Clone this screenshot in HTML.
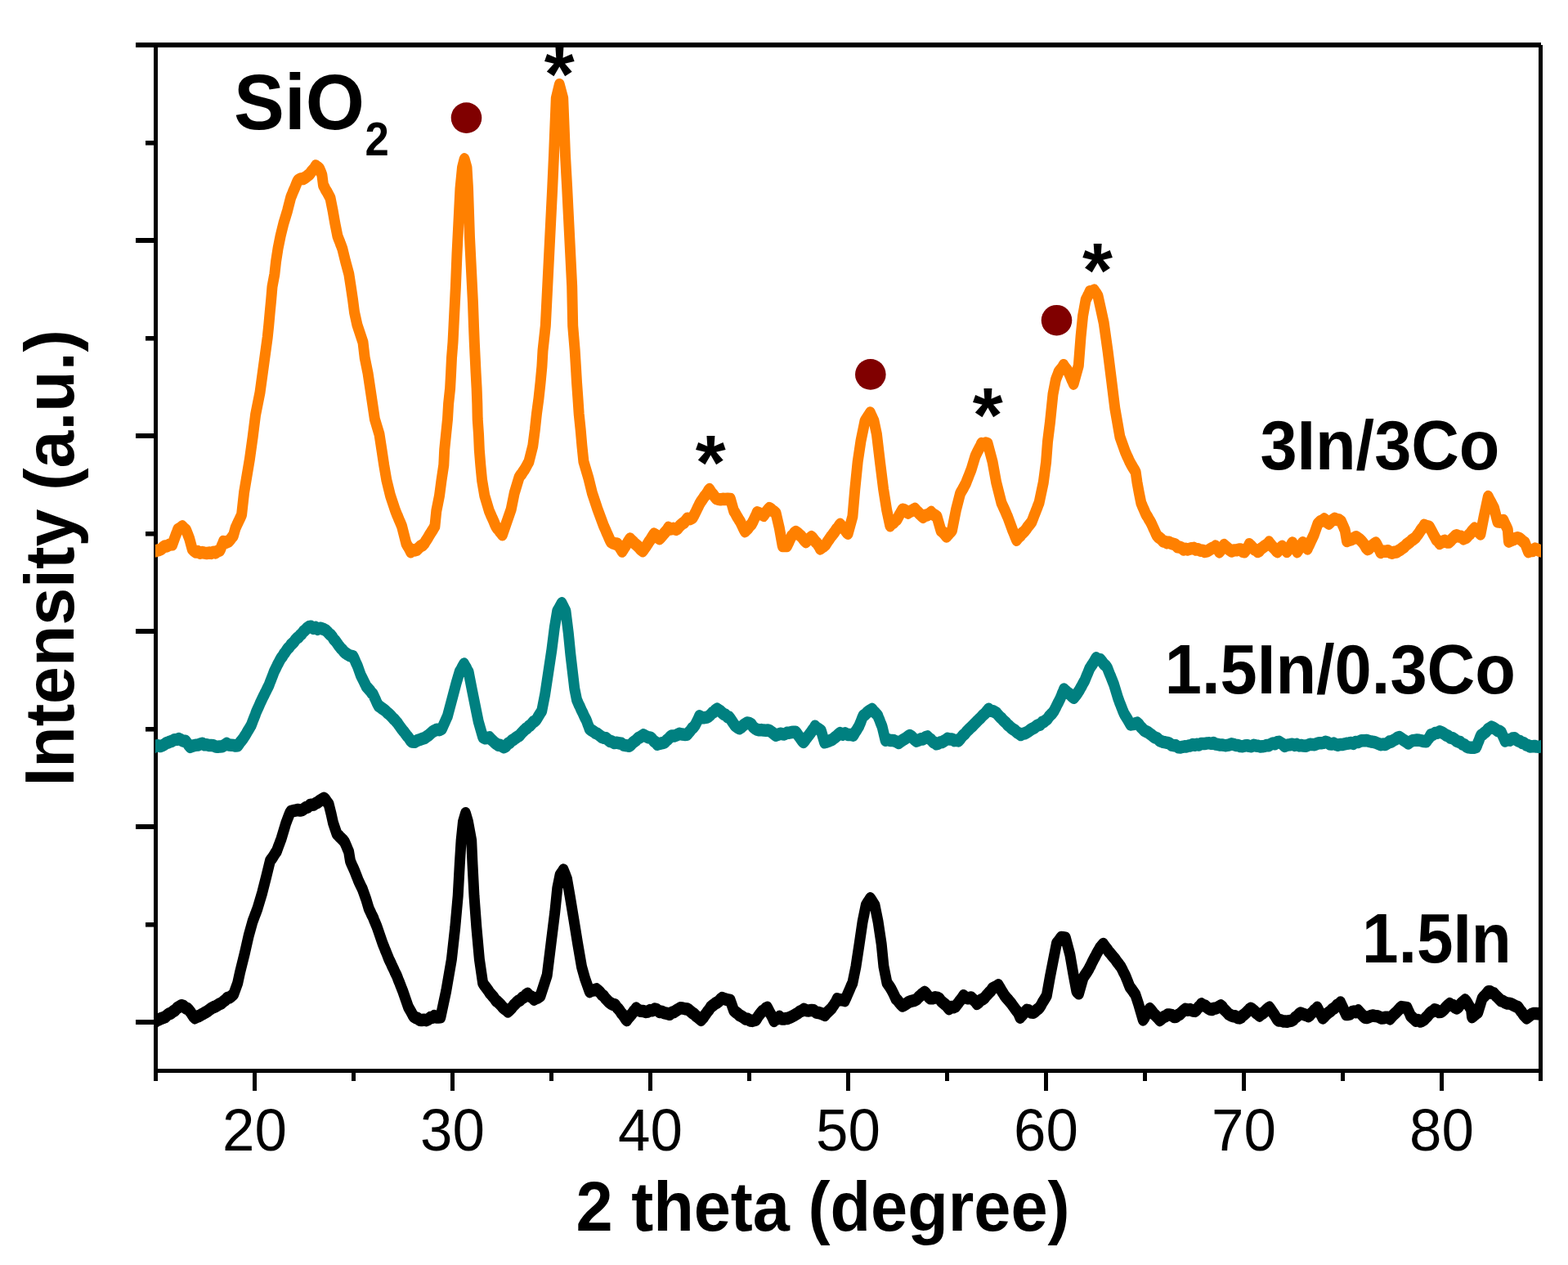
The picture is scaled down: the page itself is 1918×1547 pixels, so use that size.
<!DOCTYPE html>
<html><head><meta charset="utf-8"><title>XRD</title>
<style>html,body{margin:0;padding:0;background:#fff;}svg{display:block;}</style>
</head><body>
<svg width="1918" height="1547" viewBox="0 0 1918 1547">
<rect width="1918" height="1547" fill="#fff"/>
<g fill="#000">
<rect x="166" y="52" width="1719" height="6"/>
<rect x="188" y="52" width="5" height="1260"/>
<rect x="1882" y="55" width="5" height="1257"/>
<rect x="188" y="1307" width="1699" height="5"/>
<rect x="166" y="52.0" width="24" height="6"/>
<rect x="178" y="172.0" width="12" height="5.6"/>
<rect x="166" y="291.0" width="24" height="6"/>
<rect x="178" y="411.0" width="12" height="5.6"/>
<rect x="166" y="530.0" width="24" height="6"/>
<rect x="178" y="650.0" width="12" height="5.6"/>
<rect x="166" y="769.0" width="24" height="6"/>
<rect x="178" y="889.0" width="12" height="5.6"/>
<rect x="166" y="1008.0" width="24" height="6"/>
<rect x="178" y="1128.0" width="12" height="5.6"/>
<rect x="166" y="1247.0" width="24" height="6"/>
<rect x="188.0" y="1310" width="5" height="12"/>
<rect x="309.0" y="1310" width="5" height="24"/>
<rect x="430.0" y="1310" width="5" height="12"/>
<rect x="551.0" y="1310" width="5" height="24"/>
<rect x="672.0" y="1310" width="5" height="12"/>
<rect x="793.0" y="1310" width="5" height="24"/>
<rect x="914.0" y="1310" width="5" height="12"/>
<rect x="1035.0" y="1310" width="5" height="24"/>
<rect x="1156.0" y="1310" width="5" height="12"/>
<rect x="1277.0" y="1310" width="5" height="24"/>
<rect x="1398.0" y="1310" width="5" height="12"/>
<rect x="1519.0" y="1310" width="5" height="24"/>
<rect x="1640.0" y="1310" width="5" height="12"/>
<rect x="1761.0" y="1310" width="5" height="24"/>
<rect x="1882.0" y="1310" width="5" height="12"/>
</g>
<g font-family="'Liberation Sans', Arial, sans-serif" font-size="72.7" fill="#000" text-anchor="middle">
<text transform="translate(311.5,1407) scale(0.975,1)">20</text>
<text transform="translate(553.5,1407) scale(0.975,1)">30</text>
<text transform="translate(795.5,1407) scale(0.975,1)">40</text>
<text transform="translate(1037.5,1407) scale(0.975,1)">50</text>
<text transform="translate(1279.5,1407) scale(0.975,1)">60</text>
<text transform="translate(1521.5,1407) scale(0.975,1)">70</text>
<text transform="translate(1763.5,1407) scale(0.975,1)">80</text>
</g>
<defs><clipPath id="pc"><rect x="190" y="0" width="1695" height="1547"/></clipPath></defs>
<g clip-path="url(#pc)"><g transform="scale(1,1.19)" fill="none" stroke-width="13" stroke-linejoin="round" stroke-linecap="butt">
<polyline points="185.0,1048.97 187.5,1050.16 190.0,1049.94 192.4,1048.28 194.8,1047.64 197.2,1046.61 199.6,1045.92 202.0,1045.14 204.4,1043.32 206.8,1041.82 209.2,1041.30 211.7,1039.42 214.1,1038.34 216.7,1035.87 219.2,1034.65 221.8,1033.32 224.4,1033.82 227.0,1035.91 229.6,1036.71 231.3,1038.14 233.1,1040.08 234.8,1042.34 236.6,1044.53 238.3,1046.05 241.2,1044.73 244.1,1043.92 247.0,1042.39 249.3,1041.32 251.7,1040.28 254.0,1039.05 256.4,1037.45 258.7,1036.11 261.1,1035.06 263.5,1034.36 266.0,1033.10 268.4,1031.86 270.8,1031.08 273.2,1029.18 275.7,1027.65 278.1,1025.51 280.7,1025.10 283.2,1023.57 285.8,1021.69 290.7,1010.32 293.6,999.01 299.4,979.43 304.2,961.57 309.1,946.79 310.1,944.70 311.0,942.50 312.0,940.25 313.0,938.14 313.9,936.03 314.9,933.83 320.7,917.48 325.6,901.19 330.4,884.72 332.0,882.86 333.5,881.18 335.1,879.01 336.6,876.92 338.2,875.14 339.2,873.00 340.1,870.82 341.1,868.59 342.1,866.43 343.0,864.27 344.0,862.14 349.8,845.80 350.8,843.69 351.7,841.62 352.7,839.43 353.7,837.35 354.6,835.41 355.6,834.09 358.5,833.31 361.4,832.85 364.3,832.35 367.2,832.78 369.5,832.45 371.9,831.19 374.2,829.90 376.6,829.36 378.9,827.51 381.3,827.10 383.8,826.92 386.2,825.55 388.6,824.58 391.2,822.85 393.7,821.65 396.3,820.38 398.2,821.84 400.2,824.41 402.1,826.33 405.0,836.08 407.6,845.93 412.0,856.88 413.9,858.40 415.8,860.18 417.8,861.83 419.7,863.29 421.6,865.47 422.6,867.36 423.6,869.23 424.6,871.28 425.6,873.24 426.6,875.20 428.5,884.92 429.5,886.93 430.5,888.92 431.6,890.89 432.6,892.81 433.6,894.68 434.8,897.17 435.9,899.59 437.1,902.12 438.2,904.65 439.3,906.59 440.4,908.56 441.5,910.53 442.6,912.33 443.7,914.43 447.8,924.14 451.2,933.73 452.3,935.68 453.4,937.65 454.6,939.84 455.7,941.65 456.8,943.60 457.7,945.68 458.7,947.56 459.6,949.44 460.6,951.42 461.5,953.45 468.1,969.59 469.1,971.65 470.1,973.79 471.0,975.77 472.0,977.77 473.0,979.85 473.9,981.78 474.9,983.90 475.9,985.94 477.0,987.90 478.2,989.90 479.3,992.17 480.4,994.08 481.6,996.01 482.7,998.16 483.9,1000.25 485.0,1002.08 486.0,1004.11 486.9,1006.18 487.9,1008.35 488.9,1010.26 489.8,1012.42 490.8,1014.45 491.7,1016.46 492.7,1018.44 499.5,1034.97 500.8,1036.87 502.1,1038.73 503.3,1040.58 504.6,1042.71 505.9,1044.48 508.3,1045.81 510.8,1046.57 513.2,1048.07 515.6,1048.29 518.5,1048.08 521.4,1048.49 523.8,1047.51 526.2,1045.86 528.7,1045.81 531.1,1044.14 533.7,1045.43 536.3,1045.36 538.9,1045.20 545.7,1018.48 552.4,985.96 556.7,953.37 560.2,920.75 562.3,888.15 564.1,863.79 566.5,844.55 569.5,835.84 572.5,844.56 576.7,863.78 578.0,888.15 580.0,920.76 582.9,953.36 586.4,985.96 590.6,1010.17 592.3,1012.40 594.0,1014.23 595.6,1016.06 597.3,1017.98 599.0,1020.28 600.6,1021.65 602.2,1023.42 603.9,1024.92 605.5,1026.92 607.1,1028.57 608.7,1029.48 610.8,1031.27 612.9,1033.01 615.0,1035.23 617.1,1036.67 619.2,1037.89 621.3,1039.44 623.1,1038.17 624.8,1036.67 626.6,1035.12 628.4,1033.05 630.1,1031.83 631.9,1030.12 634.2,1028.53 636.4,1027.71 638.7,1025.50 641.0,1024.68 643.2,1022.59 645.5,1021.33 648.1,1023.77 650.7,1024.68 653.3,1026.99 655.9,1025.71 658.4,1024.97 661.0,1023.42 669.2,1002.18 674.0,969.66 678.8,937.07 681.8,912.61 685.0,899.42 687.1,896.90 689.2,894.12 690.3,896.50 691.4,898.69 692.4,900.97 693.5,903.34 697.3,921.78 702.0,945.64 706.6,969.60 711.5,993.43 715.5,1005.40 721.2,1019.02 724.0,1017.82 726.9,1017.56 729.7,1016.63 731.9,1018.12 734.0,1019.91 736.1,1022.11 738.3,1023.40 740.2,1025.63 742.1,1027.31 744.0,1029.03 746.8,1030.94 749.7,1032.23 752.5,1032.70 754.4,1035.10 756.3,1036.67 758.2,1038.68 759.9,1041.05 761.6,1042.46 763.3,1044.50 765.0,1046.86 766.7,1048.44 768.3,1046.51 770.0,1044.81 771.6,1043.13 773.2,1041.73 774.8,1039.59 776.5,1038.38 778.1,1036.21 781.0,1038.03 783.8,1038.91 786.6,1038.99 789.5,1039.87 792.3,1039.56 795.1,1038.32 798.0,1038.54 800.8,1036.94 803.6,1037.66 806.5,1039.90 809.4,1039.60 812.2,1040.82 815.8,1041.52 819.3,1042.31 821.8,1040.56 824.3,1040.05 826.8,1038.64 829.3,1037.43 832.1,1035.94 835.0,1036.08 837.9,1036.71 840.7,1036.95 842.8,1038.00 845.0,1039.64 847.1,1041.11 849.2,1042.20 851.3,1043.99 853.5,1045.27 855.6,1046.73 857.7,1048.24 859.3,1046.48 861.0,1045.00 862.6,1042.80 864.2,1041.04 865.8,1039.15 867.5,1037.43 869.1,1035.18 871.1,1033.75 873.2,1032.43 875.2,1031.07 877.2,1030.28 879.2,1028.98 881.3,1027.02 883.3,1025.62 885.8,1026.52 888.3,1027.14 890.8,1027.73 893.3,1028.11 897.6,1038.39 899.9,1040.06 902.1,1041.31 904.4,1043.25 906.6,1044.16 908.9,1045.40 911.8,1047.01 914.6,1047.24 917.4,1048.77 920.3,1049.07 925.0,1047.83 926.8,1045.20 928.6,1043.11 930.4,1041.14 932.5,1039.04 934.5,1038.57 936.5,1036.41 938.6,1035.47 940.0,1037.77 941.3,1039.94 942.6,1042.00 944.0,1044.14 945.4,1046.43 946.7,1049.10 949.0,1047.22 951.2,1046.88 953.5,1044.83 956.2,1047.08 958.9,1047.16 961.3,1046.67 963.6,1046.62 966.0,1045.60 968.4,1044.83 970.9,1043.66 973.4,1042.46 975.8,1041.30 978.3,1039.55 980.8,1038.80 983.3,1037.25 986.5,1038.43 989.6,1038.60 992.8,1038.18 995.5,1038.44 998.2,1040.43 1000.9,1040.70 1003.6,1041.22 1006.3,1042.10 1009.0,1043.25 1011.0,1041.24 1013.1,1039.53 1015.2,1037.82 1017.2,1036.18 1018.6,1034.30 1019.9,1032.85 1021.3,1030.97 1022.6,1029.28 1024.0,1026.75 1027.1,1027.52 1030.3,1027.44 1033.4,1028.22 1034.4,1026.26 1035.5,1024.41 1036.5,1022.30 1037.5,1020.31 1038.6,1018.32 1039.7,1016.16 1040.7,1014.05 1041.8,1012.14 1042.9,1010.08 1047.0,993.03 1051.1,970.25 1055.1,947.41 1059.2,930.45 1061.0,927.88 1062.8,925.68 1064.6,923.35 1066.4,925.55 1068.2,927.97 1070.0,930.34 1074.1,947.41 1078.2,970.26 1080.9,993.01 1085.0,1010.16 1086.8,1012.12 1088.6,1014.40 1090.4,1016.89 1091.8,1019.31 1093.1,1021.36 1094.5,1023.85 1095.8,1026.33 1097.8,1027.85 1099.8,1030.06 1101.9,1032.10 1103.9,1033.63 1106.3,1032.74 1108.7,1031.50 1111.0,1030.05 1113.4,1029.21 1116.1,1028.60 1118.9,1028.02 1121.6,1026.70 1123.5,1024.90 1125.4,1023.52 1127.2,1022.04 1129.1,1020.92 1131.0,1019.59 1132.7,1020.78 1134.4,1022.90 1136.1,1024.61 1137.8,1025.88 1141.0,1025.91 1144.1,1025.07 1147.3,1025.58 1149.2,1026.49 1151.2,1028.86 1153.1,1030.23 1155.1,1031.59 1157.0,1032.79 1159.0,1034.90 1160.9,1036.76 1163.6,1034.82 1166.3,1035.13 1169.0,1034.24 1170.6,1032.37 1172.2,1030.63 1173.8,1028.71 1175.3,1027.23 1176.9,1025.50 1178.5,1023.30 1181.2,1025.13 1183.9,1025.94 1188.1,1025.17 1190.4,1027.13 1192.6,1028.78 1194.9,1031.39 1197.3,1030.08 1199.7,1027.76 1202.0,1026.94 1204.4,1025.39 1206.3,1023.37 1208.2,1021.68 1210.1,1019.83 1212.0,1018.38 1213.9,1015.78 1216.4,1014.75 1218.8,1013.79 1221.3,1012.39 1222.8,1014.78 1224.3,1016.89 1225.8,1019.11 1227.3,1020.95 1228.8,1023.04 1230.8,1025.22 1232.8,1027.02 1234.9,1029.24 1236.9,1031.02 1238.5,1033.10 1240.2,1034.99 1241.8,1036.81 1243.5,1038.73 1245.1,1040.27 1246.4,1042.73 1247.8,1045.51 1249.8,1043.71 1251.8,1041.82 1253.9,1039.95 1255.9,1038.00 1258.6,1038.58 1261.3,1040.45 1264.0,1040.49 1266.0,1039.51 1268.1,1037.77 1270.2,1036.61 1272.2,1034.74 1273.5,1032.93 1274.9,1030.65 1276.2,1028.91 1277.6,1027.03 1279.0,1025.01 1280.3,1023.19 1284.4,1003.86 1288.4,986.72 1292.5,969.36 1294.3,967.64 1296.1,965.66 1297.9,963.37 1300.7,963.65 1303.4,963.98 1308.8,981.02 1312.8,1000.42 1316.9,1018.78 1319.6,1020.91 1325.0,1004.82 1326.4,1002.91 1327.7,1001.22 1329.1,999.56 1330.4,997.88 1331.8,995.99 1332.9,993.98 1334.1,992.24 1335.2,990.16 1336.3,988.38 1337.5,986.33 1338.6,984.55 1340.0,982.60 1341.3,980.28 1342.7,978.17 1344.0,976.30 1345.4,974.23 1347.5,972.20 1349.5,970.11 1351.2,972.16 1352.8,973.99 1354.5,975.78 1356.2,977.90 1357.9,979.41 1359.6,981.21 1361.3,983.03 1363.0,984.60 1364.6,986.28 1366.2,988.26 1367.9,990.03 1369.5,991.87 1371.1,993.66 1372.5,995.85 1373.8,998.20 1375.2,1000.47 1376.6,1002.79 1377.7,1005.04 1378.8,1007.34 1379.8,1009.61 1380.9,1011.90 1382.0,1014.18 1383.7,1016.01 1385.4,1017.93 1387.1,1020.16 1388.8,1022.08 1392.8,1032.27 1398.2,1047.91 1399.6,1046.28 1400.9,1044.19 1402.3,1042.25 1403.7,1040.14 1405.0,1038.41 1406.4,1036.63 1408.1,1038.23 1409.8,1039.99 1411.5,1041.99 1413.2,1043.25 1415.9,1045.76 1418.6,1048.35 1421.0,1046.78 1423.3,1045.18 1425.7,1044.26 1428.1,1042.94 1430.8,1042.86 1433.5,1043.40 1436.2,1045.03 1438.9,1044.73 1441.1,1042.99 1443.3,1042.19 1445.5,1040.34 1447.7,1038.64 1449.9,1037.25 1453.0,1038.01 1456.0,1037.48 1459.0,1038.68 1462.1,1038.99 1464.0,1037.39 1465.8,1035.28 1467.7,1033.87 1469.6,1031.75 1472.2,1033.31 1474.7,1033.92 1477.3,1035.86 1479.8,1037.09 1482.4,1037.50 1485.1,1036.24 1487.8,1036.13 1490.6,1034.67 1493.3,1033.53 1495.2,1034.71 1497.1,1037.14 1499.0,1038.71 1500.9,1040.27 1502.8,1042.08 1505.5,1043.43 1508.2,1044.32 1510.9,1044.30 1513.6,1045.80 1516.3,1046.16 1518.2,1045.46 1520.2,1043.51 1522.1,1042.50 1524.1,1040.87 1526.0,1039.31 1528.0,1037.53 1529.9,1036.33 1532.1,1037.40 1534.2,1038.86 1536.4,1040.91 1538.5,1042.01 1540.7,1043.87 1542.7,1042.00 1544.8,1041.15 1546.8,1039.81 1548.8,1038.03 1550.9,1036.48 1552.9,1035.49 1554.5,1037.50 1556.0,1039.25 1557.6,1041.25 1559.1,1043.14 1560.7,1045.38 1562.2,1047.49 1563.8,1048.77 1566.5,1048.42 1569.2,1049.50 1571.9,1049.65 1574.6,1049.86 1577.3,1049.22 1580.0,1048.84 1582.2,1047.78 1584.4,1045.52 1586.5,1044.54 1588.7,1042.41 1590.9,1041.12 1593.3,1042.07 1595.7,1042.72 1598.0,1043.24 1600.4,1044.31 1602.2,1043.31 1604.0,1041.51 1605.8,1040.11 1607.6,1038.30 1609.4,1037.23 1611.2,1035.48 1612.6,1037.65 1613.9,1039.84 1615.3,1041.94 1616.6,1043.64 1618.0,1046.16 1619.9,1044.79 1621.8,1042.86 1623.7,1041.49 1625.6,1040.24 1627.5,1039.16 1629.5,1037.25 1631.6,1036.35 1633.6,1034.84 1635.6,1032.84 1637.7,1032.23 1639.7,1030.27 1640.8,1032.33 1642.0,1034.50 1643.1,1036.33 1644.2,1038.45 1645.4,1040.39 1646.5,1042.46 1649.0,1042.45 1651.5,1041.95 1654.0,1039.99 1656.4,1039.43 1658.9,1040.04 1661.4,1038.56 1663.4,1040.58 1665.5,1042.31 1667.5,1044.14 1669.5,1045.61 1671.9,1045.73 1674.2,1045.10 1676.6,1044.24 1679.0,1043.74 1681.8,1044.04 1684.5,1044.20 1687.2,1045.16 1690.0,1046.33 1692.6,1046.01 1695.2,1045.58 1697.8,1045.51 1700.4,1046.84 1702.5,1044.78 1704.6,1042.81 1706.7,1041.27 1708.5,1039.74 1710.3,1038.21 1712.2,1036.32 1714.0,1034.97 1717.7,1035.44 1721.3,1035.88 1722.3,1038.03 1723.4,1039.85 1724.5,1041.87 1725.5,1043.98 1727.6,1045.58 1729.6,1047.12 1731.7,1048.91 1734.5,1048.27 1737.3,1049.67 1740.1,1048.79 1742.2,1047.66 1744.2,1045.84 1746.3,1044.11 1748.4,1041.81 1750.4,1040.29 1752.5,1039.41 1754.6,1037.52 1757.4,1038.24 1760.2,1040.02 1763.0,1039.78 1765.1,1038.45 1767.2,1036.62 1769.2,1034.61 1771.3,1033.09 1773.4,1031.66 1775.5,1033.11 1777.6,1033.42 1779.7,1035.24 1781.8,1036.14 1783.9,1034.92 1786.0,1032.54 1788.0,1030.70 1790.1,1029.18 1792.2,1027.60 1793.7,1029.25 1795.1,1031.02 1796.6,1033.23 1798.0,1035.10 1799.5,1036.81 1800.5,1045.09 1802.9,1043.57 1805.4,1041.73 1807.8,1040.34 1813.0,1026.18 1814.8,1024.36 1816.7,1022.84 1818.5,1021.14 1820.3,1019.12 1822.7,1019.06 1825.2,1020.57 1827.6,1020.97 1829.7,1023.18 1831.8,1024.72 1833.9,1026.58 1836.0,1028.36 1838.6,1028.98 1841.2,1030.37 1843.8,1031.13 1846.4,1031.21 1849.0,1031.90 1851.6,1033.09 1854.2,1034.19 1856.8,1034.80 1858.4,1036.71 1859.9,1038.62 1861.5,1040.06 1863.1,1042.32 1865.2,1044.31 1867.3,1046.10 1869.4,1044.80 1871.4,1043.58 1873.5,1042.27 1875.6,1041.59 1878.6,1041.49 1881.5,1041.84 1884.5,1041.51 1887.0,1042.80 1889.5,1041.81" stroke="#000"/>
<polyline points="185.0,768.08 187.5,768.06 190.0,766.59 192.9,766.16 195.7,766.90 198.6,766.20 201.0,765.12 203.3,763.65 205.7,763.06 208.1,762.10 210.8,761.45 213.5,760.18 216.2,760.00 218.9,759.33 221.6,760.46 224.4,761.50 227.1,761.59 228.9,763.55 230.7,765.68 232.5,767.53 235.9,766.45 239.3,765.75 242.0,765.66 244.8,764.68 247.5,764.01 250.2,765.38 252.9,765.36 255.6,765.98 258.3,765.99 261.1,766.17 263.8,767.18 266.5,767.45 269.2,767.16 271.9,767.04 274.6,765.72 277.3,764.10 280.0,765.56 282.7,765.68 285.5,765.87 288.2,766.44 290.9,766.21 292.5,764.38 294.2,762.27 295.8,760.79 297.5,758.93 299.1,756.66 300.5,755.01 301.8,753.09 303.1,751.08 304.5,749.20 305.9,747.28 307.2,745.47 308.2,743.27 309.1,741.22 310.1,739.01 311.1,737.01 312.1,734.90 313.0,732.69 314.0,730.61 315.1,728.61 316.3,726.45 317.4,724.28 318.5,722.11 319.7,720.03 320.8,718.05 322.0,715.92 323.1,714.21 324.3,712.04 325.4,710.29 326.6,708.14 327.7,706.39 328.9,704.33 329.9,702.17 330.8,700.06 331.8,697.98 332.8,695.85 333.8,693.68 334.7,691.54 335.7,689.50 336.8,687.74 338.0,685.73 339.1,683.64 340.2,681.98 341.4,680.05 342.5,678.29 344.1,675.99 345.7,674.39 347.2,672.11 348.8,670.53 350.4,668.42 352.0,666.44 353.9,665.10 355.8,662.72 357.7,661.21 359.6,659.64 361.5,657.35 363.4,655.72 365.3,654.69 367.2,652.71 369.1,651.36 371.0,649.17 373.3,647.61 375.5,645.60 377.8,644.31 380.5,643.89 383.2,645.81 386.0,644.85 388.7,646.52 391.4,645.53 394.1,646.12 396.8,647.01 398.9,647.96 400.9,649.54 402.9,651.56 405.0,652.87 406.6,654.50 408.2,656.90 409.9,658.23 411.5,659.99 413.1,661.99 415.0,664.11 416.9,666.13 418.8,667.64 420.7,669.72 422.6,671.07 425.0,672.40 427.4,673.59 429.7,674.27 432.1,674.73 433.2,676.74 434.3,678.82 435.3,680.83 436.4,682.82 437.5,684.82 441.4,694.09 442.5,695.88 443.6,697.71 444.8,699.73 445.9,701.78 447.0,703.44 448.1,705.52 449.7,706.98 451.4,708.67 453.0,710.00 454.7,712.18 456.3,713.38 457.4,715.56 458.6,717.60 459.7,719.57 460.8,721.81 462.0,723.78 463.1,725.46 465.8,726.97 468.5,728.66 471.2,730.17 473.5,732.24 475.7,733.62 478.0,735.47 479.6,737.03 481.3,738.67 482.9,739.72 484.6,741.47 486.2,742.96 487.8,745.00 489.4,746.85 491.1,748.78 492.7,750.56 494.3,752.12 495.9,753.99 497.5,755.81 499.1,757.26 500.6,759.04 502.2,761.04 503.8,762.25 507.0,762.51 510.1,761.05 513.3,760.18 516.7,759.16 520.1,758.22 522.3,756.68 524.5,755.45 526.6,753.86 528.8,752.18 531.0,751.06 534.2,749.71 537.3,750.14 540.5,748.96 541.6,746.79 542.8,744.60 543.9,742.52 545.0,740.44 546.2,738.19 547.3,736.21 552.7,719.16 558.1,701.97 562.2,690.43 563.6,688.63 564.9,686.38 566.2,684.36 567.6,682.44 569.0,684.39 570.4,686.35 571.7,688.70 573.1,690.58 577.1,707.70 581.2,724.89 585.3,741.88 590.7,757.57 593.4,758.61 596.2,758.47 598.9,757.89 600.9,759.89 603.0,761.48 605.0,763.16 607.0,764.37 609.4,765.72 611.8,765.77 614.1,766.87 616.5,767.86 618.9,766.76 621.2,764.24 623.6,763.26 626.0,761.00 628.4,760.00 630.8,758.37 633.1,757.02 635.5,755.85 637.3,754.03 639.1,752.28 641.0,750.77 642.8,749.22 644.6,748.36 646.4,746.69 648.3,745.62 650.2,743.98 652.1,741.96 654.0,741.20 655.9,739.80 657.3,737.96 658.6,736.03 660.0,734.15 661.3,732.38 662.7,730.61 666.7,713.44 670.8,690.59 674.9,667.81 678.3,644.98 681.7,628.03 683.1,626.13 684.4,624.13 685.8,621.95 687.1,619.99 688.3,622.03 689.5,623.91 690.7,625.92 691.9,627.90 695.3,650.68 698.0,673.53 702.8,707.75 705.5,719.05 706.7,721.40 707.9,723.87 709.2,725.92 710.4,728.28 711.6,730.44 713.0,732.72 714.3,735.26 715.6,737.56 717.0,739.69 718.0,741.88 719.0,744.20 720.1,746.48 721.1,749.01 723.5,750.45 725.9,751.61 728.2,753.14 730.6,754.01 733.3,755.73 736.0,757.41 738.8,758.29 741.5,758.58 743.8,760.24 746.0,761.64 748.3,762.12 751.5,763.54 754.6,763.18 757.8,763.92 760.2,764.12 762.7,765.68 765.1,766.01 767.6,766.35 770.0,766.58 772.0,765.18 774.0,763.17 776.1,761.99 778.1,760.71 780.3,758.67 782.5,757.87 784.8,756.64 787.0,755.32 789.9,756.59 792.9,757.75 795.8,758.08 797.8,759.54 799.8,761.62 801.9,762.73 803.9,764.93 807.1,764.12 810.2,763.61 813.4,762.83 815.5,760.64 817.5,759.35 819.5,757.52 821.6,756.24 824.8,756.36 827.9,755.40 831.1,753.97 834.3,754.65 837.4,754.98 840.6,754.82 842.5,752.81 844.4,751.10 846.3,748.69 848.2,747.53 850.1,745.46 851.5,743.21 852.8,741.11 854.1,738.90 855.5,735.89 858.7,737.36 861.8,737.56 865.0,737.11 867.0,736.14 869.1,734.51 871.1,732.65 873.1,731.75 875.2,729.63 877.2,728.60 879.2,729.79 881.3,730.96 883.4,732.65 885.4,733.91 887.7,734.73 889.9,736.82 892.2,737.15 893.9,739.11 895.6,741.38 897.3,743.57 899.0,745.56 901.7,747.26 904.4,748.55 906.8,747.34 909.1,745.53 911.5,744.03 913.9,742.86 916.6,743.15 919.3,744.52 921.2,747.01 923.1,748.38 925.8,749.76 928.6,750.26 931.3,750.09 934.0,750.46 936.7,750.57 939.4,750.40 941.8,751.02 944.1,752.48 946.5,754.15 948.9,755.66 951.6,754.90 954.3,753.96 957.0,754.36 959.7,754.55 962.4,753.23 965.1,753.17 967.9,752.58 970.6,752.34 973.3,752.32 974.9,753.79 976.5,755.80 978.0,757.51 979.6,759.35 981.2,761.38 982.8,762.70 984.6,761.05 986.4,758.67 988.2,756.79 990.0,754.80 991.8,752.76 993.5,750.65 995.2,748.97 997.0,746.34 999.5,748.41 1002.0,749.60 1004.5,751.18 1008.5,762.90 1011.7,762.12 1014.8,761.15 1018.0,760.06 1020.4,758.36 1022.8,756.97 1025.1,755.13 1027.5,753.41 1030.7,754.80 1033.8,753.64 1037.0,755.05 1040.4,754.93 1043.8,755.65 1045.2,753.80 1046.5,751.85 1047.9,750.20 1049.2,748.23 1050.6,746.54 1051.7,744.24 1052.8,742.11 1053.8,739.85 1054.9,737.47 1056.0,735.37 1058.2,734.50 1060.3,732.59 1062.5,731.11 1064.6,730.06 1066.8,728.91 1069.1,731.32 1071.3,733.09 1073.6,735.18 1074.7,737.55 1075.8,739.69 1076.8,742.09 1077.9,744.32 1079.0,746.54 1083.1,760.80 1085.8,759.99 1088.5,760.89 1091.2,760.87 1093.9,761.15 1096.7,762.32 1099.4,763.46 1101.7,761.96 1103.9,760.71 1106.2,759.59 1108.4,758.41 1110.7,756.93 1112.9,755.81 1114.9,756.79 1117.0,758.68 1119.0,760.32 1121.0,761.57 1123.7,760.67 1126.4,759.41 1129.2,759.60 1131.9,757.79 1134.6,757.04 1136.8,759.06 1138.9,760.03 1141.1,762.38 1143.2,763.23 1145.4,764.59 1147.7,764.01 1149.9,763.01 1152.2,762.73 1154.5,761.68 1156.7,760.51 1159.0,759.06 1161.7,759.68 1164.4,759.64 1167.2,761.06 1169.9,760.80 1172.6,761.29 1174.4,759.62 1176.3,757.39 1178.1,755.56 1180.1,754.38 1182.2,751.97 1184.2,750.30 1186.3,748.66 1188.1,747.17 1189.9,745.79 1191.7,744.12 1193.5,742.67 1195.3,741.06 1197.1,739.53 1199.1,738.09 1201.2,736.11 1203.2,734.39 1205.2,732.96 1207.3,730.64 1209.3,728.72 1212.0,730.60 1214.7,730.82 1217.4,732.00 1219.3,733.05 1221.2,734.98 1223.1,736.84 1225.0,738.02 1226.9,739.97 1228.8,741.44 1230.7,742.85 1232.6,744.96 1234.5,746.04 1236.4,747.70 1238.8,749.31 1241.3,750.42 1243.7,752.45 1246.2,753.62 1248.6,755.08 1251.0,754.07 1253.3,753.73 1255.7,752.79 1258.1,751.61 1260.5,749.98 1263.0,748.78 1265.4,747.78 1267.9,746.02 1270.3,745.04 1272.5,744.64 1274.7,742.34 1276.8,741.85 1279.0,740.21 1281.2,738.95 1283.2,736.36 1285.2,734.53 1287.3,732.88 1289.3,730.51 1290.4,728.64 1291.6,726.81 1292.7,724.85 1293.8,722.93 1295.0,721.21 1296.1,719.14 1297.2,717.25 1298.3,715.05 1299.3,712.77 1300.4,710.88 1301.5,708.40 1303.8,710.26 1306.0,711.96 1308.3,713.17 1311.0,715.42 1313.7,717.07 1315.4,715.07 1317.1,713.38 1318.8,711.24 1320.5,709.00 1321.8,707.01 1323.2,705.04 1324.5,702.70 1325.9,700.79 1327.2,698.65 1328.3,696.38 1329.4,694.11 1330.5,691.86 1331.6,689.56 1332.7,687.26 1334.0,685.49 1335.4,683.75 1336.8,682.01 1338.1,680.19 1339.5,678.25 1340.8,676.31 1343.5,677.86 1346.2,677.99 1347.8,679.55 1349.5,681.66 1351.1,683.12 1352.8,684.41 1354.4,686.19 1355.4,688.30 1356.4,690.47 1357.4,692.60 1358.5,694.72 1359.5,696.95 1360.5,699.08 1361.5,701.16 1362.5,703.27 1367.9,718.10 1368.9,720.32 1369.8,722.48 1370.8,724.43 1371.8,726.65 1372.8,728.76 1373.7,730.86 1374.7,732.73 1376.0,734.85 1377.4,736.59 1378.8,738.48 1380.1,740.54 1381.5,742.46 1382.8,744.49 1385.5,744.23 1388.3,743.72 1391.0,742.92 1393.0,744.34 1395.0,746.69 1397.1,748.50 1399.1,750.37 1401.5,751.54 1403.8,752.34 1406.2,753.95 1408.6,755.22 1411.0,757.02 1413.3,758.04 1415.7,758.72 1418.1,760.89 1420.4,761.79 1422.7,762.55 1425.0,762.80 1427.7,763.30 1430.4,763.93 1433.1,765.62 1435.8,766.15 1438.5,766.21 1441.3,767.89 1444.0,768.10 1446.5,767.46 1449.0,767.09 1451.5,767.21 1453.9,766.40 1456.4,766.35 1458.9,765.09 1461.5,765.80 1464.0,764.83 1466.6,765.64 1469.1,764.23 1471.7,764.18 1474.2,764.26 1476.8,763.77 1479.3,763.74 1481.9,764.13 1484.4,763.38 1487.0,764.73 1489.5,765.02 1492.0,765.59 1494.5,765.46 1497.1,765.89 1499.6,766.14 1502.9,765.63 1506.3,764.56 1509.0,764.97 1511.8,765.93 1514.5,765.98 1517.2,766.92 1519.9,766.98 1522.6,766.42 1525.3,766.06 1528.1,766.67 1530.8,766.98 1533.5,765.79 1536.2,766.33 1538.9,766.61 1541.6,767.20 1544.3,767.07 1547.0,766.68 1549.5,765.91 1552.0,766.27 1554.5,764.83 1557.1,763.77 1559.6,764.49 1562.1,762.83 1564.6,762.47 1566.9,763.71 1569.1,764.86 1571.4,766.75 1574.6,765.65 1577.7,765.34 1580.9,764.83 1583.6,765.90 1586.3,764.98 1589.0,766.30 1591.7,765.97 1594.4,766.41 1597.1,766.67 1599.8,765.82 1602.5,764.85 1605.2,765.21 1608.0,765.26 1610.7,764.35 1613.4,763.63 1616.1,763.65 1618.8,763.37 1621.3,762.47 1623.9,763.06 1626.4,764.49 1628.9,764.78 1631.4,763.94 1634.0,765.11 1636.5,765.75 1639.2,765.11 1641.9,765.13 1644.6,764.66 1647.3,764.01 1650.0,763.81 1652.7,763.39 1655.4,764.20 1658.1,762.69 1660.8,762.72 1663.6,761.67 1666.3,761.03 1669.0,761.15 1671.8,760.90 1674.5,761.68 1677.2,762.19 1680.0,762.57 1683.0,763.17 1686.0,764.25 1689.0,765.30 1692.0,764.78 1694.5,765.21 1697.0,763.99 1699.4,762.27 1701.9,762.37 1704.4,760.84 1706.8,759.85 1709.3,758.18 1711.8,757.58 1714.0,758.78 1716.2,760.28 1718.3,761.24 1720.5,762.58 1722.7,763.87 1725.3,762.23 1727.8,761.06 1730.4,760.80 1733.2,760.46 1736.1,760.71 1738.9,761.25 1741.8,761.84 1744.6,762.08 1746.4,760.00 1748.3,758.08 1750.1,755.14 1752.8,754.87 1755.5,753.27 1758.3,753.19 1761.0,751.93 1763.6,752.64 1766.3,753.98 1768.9,755.56 1771.6,756.42 1774.2,758.14 1776.7,758.51 1779.1,759.63 1781.5,761.51 1784.0,762.24 1786.4,762.72 1788.8,764.72 1791.3,765.30 1793.7,767.18 1796.1,767.96 1799.4,768.22 1802.6,768.34 1805.9,767.65 1806.8,765.76 1807.7,763.57 1808.7,761.65 1809.6,759.77 1810.5,757.60 1811.4,755.89 1813.6,754.77 1815.8,753.02 1818.0,751.72 1820.1,749.45 1822.3,748.47 1824.5,747.11 1826.9,748.09 1829.3,749.26 1831.8,750.92 1834.2,751.33 1836.6,752.81 1837.7,755.01 1838.8,757.15 1839.9,759.15 1841.0,761.37 1844.0,760.24 1847.0,760.69 1850.0,758.78 1853.0,758.66 1855.2,760.37 1857.4,761.52 1859.6,761.89 1861.8,763.55 1864.2,763.68 1866.7,765.46 1869.1,765.94 1871.6,767.20 1874.2,767.08 1876.9,766.72 1879.5,767.34 1882.2,767.45 1884.8,767.03 1887.3,767.65 1889.8,766.64" stroke="#008080"/>
<polyline points="185.4,565.95 187.9,566.46 190.4,566.20 193.8,565.40 197.2,564.27 199.5,562.45 201.7,561.27 204.0,561.30 207.4,559.78 210.8,559.53 214.2,551.70 215.3,549.13 216.5,546.74 217.6,544.17 220.3,542.99 223.0,541.09 225.3,543.24 227.7,544.87 228.7,547.06 229.8,549.38 230.8,551.63 231.8,553.81 235.2,564.33 237.2,565.92 239.3,567.23 242.0,566.83 244.7,568.28 247.5,567.67 250.2,568.13 252.9,568.45 255.6,568.11 258.3,568.40 261.0,567.45 263.7,567.97 266.4,566.35 269.1,565.41 270.1,563.40 271.1,561.20 272.2,559.21 273.2,556.85 276.6,557.47 280.0,556.09 281.8,554.34 283.6,552.25 285.4,550.51 288.1,542.49 289.2,540.52 290.2,538.63 291.3,536.68 292.4,534.81 293.5,532.79 294.5,530.91 295.6,528.83 298.6,505.99 305.4,471.77 309.2,448.98 312.6,426.16 318.0,403.38 327.2,346.81 328.8,333.78 330.2,320.76 331.7,307.73 333.0,294.64 335.9,281.60 337.6,268.56 340.0,255.52 343.1,242.55 346.9,229.57 351.6,216.43 355.5,203.51 356.5,201.24 357.6,199.00 358.6,196.84 359.6,195.00 360.6,193.06 361.6,190.89 362.5,189.08 363.5,186.97 364.5,185.45 367.6,183.91 370.7,183.67 373.8,182.28 376.9,180.17 378.7,178.97 380.5,176.82 382.3,175.12 384.2,173.30 386.2,170.52 388.5,171.90 390.8,173.42 391.8,175.63 392.9,177.68 393.9,179.90 395.5,190.48 396.7,192.14 397.9,194.26 399.1,196.11 400.4,197.78 401.6,199.68 402.8,201.58 404.0,203.45 407.1,216.48 409.8,229.50 412.9,242.55 413.9,244.79 414.9,246.86 415.9,249.02 416.8,251.25 417.8,253.32 418.8,255.53 422.6,268.63 426.8,281.60 429.2,294.62 431.5,307.72 433.5,320.75 436.9,333.79 444.0,351.84 446.2,367.65 450.0,383.37 452.8,399.14 455.6,414.88 458.4,430.67 464.0,446.39 466.9,462.18 469.7,477.91 472.9,493.64 477.5,509.33 483.7,525.02 484.7,527.15 485.7,529.19 486.7,530.99 487.6,533.01 488.6,535.02 489.6,536.93 490.6,538.92 491.6,540.91 497.0,558.77 498.4,560.82 499.8,562.64 501.1,564.63 502.5,567.06 505.0,565.27 507.5,565.46 510.0,564.94 512.3,562.90 514.6,561.19 517.0,560.16 519.3,558.12 520.7,556.17 522.1,554.36 523.5,552.56 524.9,550.36 526.3,548.54 527.7,546.62 529.1,544.92 530.5,542.82 531.9,540.93 533.8,525.11 537.5,509.41 540.0,493.62 542.8,477.90 543.7,462.18 545.6,446.38 547.5,430.67 548.6,414.87 550.6,399.16 551.6,383.36 552.5,367.65 554.0,351.85 555.0,334.96 557.4,294.54 559.0,260.84 561.0,227.23 563.0,193.53 565.5,172.23 568.1,163.75 571.0,172.27 572.5,193.53 574.5,244.03 576.5,277.73 578.5,311.43 579.5,334.96 580.3,351.85 581.2,367.65 582.1,383.36 583.1,399.16 583.8,414.87 584.2,430.68 585.5,446.39 586.3,462.19 587.8,477.91 589.6,493.60 592.8,509.45 598.4,525.21 599.4,527.14 600.4,529.08 601.4,530.99 602.5,532.98 603.5,534.93 604.5,536.86 605.5,538.97 606.5,540.78 608.1,542.79 609.7,543.95 611.3,546.18 612.9,547.71 614.5,549.32 625.2,523.39 629.1,507.11 634.9,490.80 636.6,488.45 638.3,486.82 640.0,484.46 641.7,482.53 643.0,480.63 644.3,478.54 645.6,476.46 646.9,474.50 651.8,458.15 654.3,441.85 656.4,425.54 659.0,409.25 661.1,392.94 662.9,376.64 664.0,360.33 667.3,334.96 669.7,294.54 671.7,260.84 673.7,227.23 675.7,193.53 677.5,159.83 680.3,100.87 684.3,87.10 688.7,100.84 691.5,159.83 693.7,193.53 695.7,227.23 697.7,260.84 699.7,294.54 700.7,334.96 703.2,360.34 704.4,376.64 705.5,392.94 706.9,409.24 708.2,425.54 710.2,441.84 711.9,458.14 713.9,474.39 719.7,490.80 724.5,507.12 730.9,523.28 738.1,539.66 739.1,541.60 740.2,543.59 741.2,545.59 742.2,547.66 743.3,549.63 744.3,551.56 745.3,553.50 746.4,555.53 747.4,556.95 749.9,558.07 752.5,558.75 755.0,558.76 756.5,560.50 758.0,562.44 759.5,564.43 761.0,566.44 762.4,564.71 763.8,562.70 765.2,561.10 766.5,559.20 767.9,557.29 769.3,555.45 770.7,553.69 772.6,555.46 774.6,556.80 776.5,558.62 778.5,560.01 780.4,561.41 782.3,563.25 784.3,564.97 786.2,566.17 787.7,564.41 789.3,562.46 790.8,560.76 792.3,558.84 793.9,556.61 795.4,554.94 796.9,552.94 798.5,550.73 800.0,548.87 802.3,550.00 804.5,552.20 806.8,553.48 808.6,551.92 810.4,550.13 812.2,548.32 814.0,546.64 815.8,544.79 817.6,542.38 820.8,543.62 823.9,543.11 827.1,544.05 829.0,543.09 831.0,540.91 832.9,539.43 834.9,537.91 836.8,537.09 838.8,534.93 840.7,532.97 844.0,533.34 847.4,531.81 848.6,530.05 849.8,528.00 851.0,526.06 852.1,524.10 853.3,521.98 854.5,520.06 855.7,517.81 856.9,516.12 858.5,514.14 860.0,512.41 861.6,510.23 863.1,508.76 864.7,507.03 866.2,504.70 867.8,503.01 869.4,505.04 871.0,507.09 872.7,508.66 874.3,510.52 875.9,512.19 878.6,512.95 881.3,513.32 884.1,512.87 886.8,512.97 890.1,512.89 893.5,512.92 897.6,525.09 899.0,526.83 900.3,528.91 901.7,531.01 903.0,532.65 904.4,534.69 905.7,536.36 906.8,538.43 907.9,540.35 909.0,542.22 910.1,544.07 911.2,545.95 913.2,544.30 915.2,542.71 917.3,540.33 919.3,538.69 920.4,536.96 921.6,535.07 922.7,532.99 923.8,531.02 925.0,529.16 926.1,526.68 928.8,527.64 931.5,528.38 934.2,529.71 935.9,527.62 937.6,525.64 939.3,523.98 941.0,522.40 943.0,523.09 945.0,524.87 947.1,525.94 949.1,527.43 953.2,542.19 957.2,560.87 960.0,560.66 962.7,560.86 963.8,559.07 964.9,557.11 965.9,555.11 967.0,553.23 968.1,551.22 969.9,549.81 971.7,547.61 973.5,546.59 975.8,547.85 978.0,549.70 980.3,551.32 982.1,553.39 983.9,555.21 985.7,556.86 988.0,555.03 990.2,553.48 992.5,551.77 994.2,553.10 995.9,555.00 997.6,556.82 999.3,558.14 1000.6,559.85 1002.0,561.67 1003.3,563.85 1005.6,562.37 1007.8,561.25 1010.1,559.52 1011.7,557.28 1013.3,555.35 1014.9,553.48 1016.4,551.54 1018.0,549.92 1019.6,548.12 1021.2,546.37 1022.8,544.18 1024.5,542.78 1026.1,540.66 1027.7,538.94 1029.6,541.00 1031.5,542.39 1033.4,544.25 1035.3,546.63 1037.2,548.21 1042.9,530.84 1045.8,502.61 1049.2,474.38 1053.0,453.08 1058.0,432.69 1059.6,430.64 1061.2,428.56 1062.9,426.33 1064.5,424.39 1065.6,426.60 1066.8,428.54 1067.9,430.68 1069.0,432.74 1072.4,446.05 1076.4,474.37 1080.6,502.59 1084.6,523.81 1088.8,540.22 1090.9,537.90 1093.0,537.14 1095.1,535.05 1097.2,533.72 1098.6,531.67 1099.9,529.43 1101.3,527.53 1102.6,525.47 1104.0,523.77 1106.2,524.03 1108.5,525.66 1110.7,526.96 1113.5,525.57 1116.3,524.39 1119.1,523.01 1121.1,524.94 1123.1,526.39 1125.2,528.30 1127.2,529.84 1129.2,531.35 1131.7,529.75 1134.2,529.27 1136.7,528.16 1139.2,526.53 1141.5,528.65 1143.7,529.70 1146.0,530.79 1151.0,545.28 1153.2,546.76 1155.5,548.98 1157.7,551.35 1159.4,549.70 1161.1,548.11 1162.8,546.63 1164.5,544.96 1169.5,523.76 1174.5,507.27 1175.9,505.13 1177.2,503.28 1178.6,501.19 1179.9,499.01 1181.3,496.95 1182.3,494.84 1183.2,492.80 1184.2,490.81 1185.1,488.91 1186.1,486.70 1187.0,484.79 1188.0,482.74 1193.0,468.75 1194.3,466.52 1195.5,464.42 1196.8,462.36 1198.1,460.32 1199.3,458.32 1200.6,455.89 1203.1,456.72 1205.7,455.48 1208.2,456.11 1214.0,474.35 1218.6,495.51 1225.0,516.80 1226.1,518.80 1227.1,520.67 1228.2,522.69 1229.3,524.77 1230.4,526.87 1231.4,528.91 1232.5,530.89 1238.7,544.98 1239.6,546.82 1240.6,548.83 1241.5,550.73 1242.5,552.76 1243.4,554.76 1245.2,552.86 1246.9,551.27 1248.7,550.05 1250.4,547.85 1252.2,546.81 1253.9,545.20 1255.5,543.48 1257.1,541.36 1258.8,539.70 1260.4,537.95 1262.0,536.16 1263.0,534.09 1264.0,531.88 1265.0,529.65 1266.0,527.62 1267.0,525.39 1268.0,523.27 1269.0,521.15 1270.0,518.84 1271.0,516.83 1276.3,495.80 1279.6,474.79 1281.5,453.78 1284.5,433.61 1288.0,405.02 1291.4,390.34 1292.3,388.24 1293.2,386.34 1294.1,384.38 1295.0,382.32 1296.5,380.69 1298.0,379.22 1299.5,377.48 1301.0,375.33 1302.5,377.42 1304.0,379.02 1305.5,380.38 1307.0,382.31 1308.0,384.26 1309.1,386.19 1310.1,388.29 1311.1,390.37 1312.2,392.18 1313.2,394.25 1319.3,375.72 1322.0,346.38 1324.6,324.39 1328.1,308.27 1329.3,306.32 1330.5,304.19 1331.8,302.14 1333.0,299.77 1335.8,299.57 1338.5,298.44 1340.0,300.40 1341.5,302.18 1343.0,304.22 1346.4,317.06 1350.2,331.67 1355.1,361.00 1359.5,390.33 1363.8,419.65 1369.9,448.93 1376.4,464.28 1377.5,466.44 1378.6,468.50 1379.8,470.57 1380.9,472.73 1382.0,474.71 1383.4,476.88 1384.9,479.10 1386.3,481.05 1387.8,483.06 1389.2,485.31 1391.0,495.89 1393.3,506.38 1395.8,516.86 1396.9,519.00 1397.9,521.12 1399.0,523.12 1400.0,525.17 1401.1,527.27 1402.5,529.61 1404.0,531.45 1405.4,533.68 1406.9,535.67 1408.3,537.82 1409.4,539.89 1410.5,542.05 1411.7,544.07 1412.8,546.11 1413.9,548.22 1415.0,550.11 1416.9,551.88 1418.8,552.96 1420.8,554.39 1422.7,556.22 1425.2,556.73 1427.7,557.76 1430.2,557.31 1432.7,558.44 1435.2,559.02 1437.7,559.65 1440.2,561.99 1442.7,562.12 1445.2,563.06 1447.7,564.66 1450.2,564.01 1452.7,564.64 1455.3,564.05 1457.8,563.54 1460.3,563.31 1463.0,564.82 1465.7,564.51 1468.4,565.76 1471.1,565.66 1473.8,566.84 1476.5,566.30 1480.0,564.66 1482.3,563.47 1484.6,562.93 1486.9,561.41 1488.4,563.17 1490.0,564.94 1491.5,567.17 1493.4,565.21 1495.3,562.86 1497.2,560.18 1499.5,561.80 1501.8,563.46 1504.1,565.13 1506.4,566.37 1509.5,565.45 1512.5,565.38 1515.6,564.74 1517.9,564.75 1520.1,566.74 1522.4,567.05 1523.9,565.41 1525.3,563.66 1526.8,561.87 1528.2,559.37 1530.3,561.08 1532.3,562.83 1534.4,564.61 1536.4,565.21 1538.5,566.85 1540.5,566.04 1542.4,563.94 1544.4,562.84 1546.4,561.42 1548.4,560.40 1550.3,559.28 1552.3,557.23 1554.0,559.26 1555.7,560.85 1557.4,562.52 1559.2,563.91 1560.9,565.78 1562.6,566.96 1564.5,565.09 1566.4,563.06 1568.3,561.54 1570.2,563.24 1572.2,564.99 1574.1,566.90 1575.5,565.33 1576.8,563.44 1578.2,561.66 1579.5,559.68 1580.9,557.89 1582.4,560.06 1583.8,562.56 1585.2,564.59 1586.7,567.04 1588.1,565.26 1589.5,563.31 1590.8,561.13 1592.2,559.28 1593.6,557.69 1595.5,559.64 1597.4,561.86 1599.3,563.81 1600.4,561.65 1601.6,559.76 1602.7,557.68 1603.9,555.53 1605.0,553.51 1606.2,551.39 1607.3,549.48 1611.9,538.46 1614.6,536.07 1617.2,535.30 1619.9,533.50 1621.8,534.90 1623.8,536.86 1625.7,537.91 1628.0,535.97 1630.3,534.30 1632.6,533.06 1635.3,534.04 1637.9,534.32 1640.6,535.97 1641.8,538.34 1642.9,540.30 1644.0,542.56 1645.2,544.70 1647.5,555.97 1650.3,554.86 1653.2,554.30 1656.1,553.08 1658.9,551.83 1661.2,553.16 1663.5,554.40 1665.8,556.39 1667.5,558.13 1669.2,560.21 1671.0,562.83 1672.7,564.39 1674.8,563.75 1676.8,561.55 1678.9,560.59 1680.9,558.97 1683.0,558.02 1684.5,560.23 1685.9,562.53 1687.3,564.87 1688.8,567.67 1691.8,566.50 1694.9,566.61 1697.9,566.09 1700.4,567.61 1703.0,568.27 1705.7,567.38 1708.3,567.23 1710.9,565.91 1713.2,564.73 1715.6,563.11 1717.9,561.85 1720.2,559.65 1722.5,558.36 1724.8,556.94 1727.1,554.96 1729.4,553.89 1731.7,552.40 1733.2,550.48 1734.7,548.87 1736.2,547.11 1737.6,545.14 1739.1,543.48 1740.6,542.11 1742.1,539.83 1745.2,540.78 1748.4,541.51 1749.8,543.61 1751.2,545.63 1752.6,547.99 1753.9,549.95 1755.3,552.06 1756.7,554.34 1758.8,555.89 1760.9,558.30 1764.1,556.82 1767.2,555.75 1769.8,557.10 1772.4,557.25 1774.3,555.81 1776.2,553.92 1778.0,552.70 1779.9,550.89 1781.8,550.17 1784.6,551.21 1787.3,551.51 1790.1,553.65 1794.3,552.05 1796.2,550.12 1798.1,548.69 1799.9,546.53 1801.8,544.82 1803.7,543.06 1805.5,544.01 1807.3,546.10 1809.2,547.16 1811.0,548.82 1815.1,531.17 1820.3,510.59 1821.5,512.58 1822.7,514.41 1823.9,516.33 1825.2,518.39 1826.4,520.42 1827.6,522.39 1831.8,535.93 1834.2,536.29 1836.7,535.61 1839.1,534.84 1840.1,536.78 1841.2,538.68 1842.2,540.47 1843.3,542.34 1844.3,544.37 1845.4,556.42 1848.2,555.48 1851.1,554.47 1854.0,553.18 1856.8,552.74 1858.9,553.40 1861.0,554.88 1863.1,556.62 1865.2,557.54 1869.4,566.93 1872.2,566.00 1874.9,566.00 1877.7,563.93 1880.1,564.63 1882.6,565.76 1885.0,566.28 1887.5,565.66 1890.0,565.46" stroke="#ff8000"/>
</g></g>
<circle cx="570.5" cy="144.1" r="18.8" fill="#800000"/>
<circle cx="1064.8" cy="457.9" r="18.8" fill="#800000"/>
<circle cx="1292.5" cy="391.7" r="18.8" fill="#800000"/>
<text font-family="'Liberation Sans', Arial, sans-serif" font-weight="bold" font-size="95" x="665.8" y="122.5">*</text>
<text font-family="'Liberation Sans', Arial, sans-serif" font-weight="bold" font-size="95" x="850.8" y="597.5">*</text>
<text font-family="'Liberation Sans', Arial, sans-serif" font-weight="bold" font-size="95" x="1189.7" y="539.5">*</text>
<text font-family="'Liberation Sans', Arial, sans-serif" font-weight="bold" font-size="95" x="1324.0" y="363.2">*</text>
<text font-family="'Liberation Sans', Arial, sans-serif" font-weight="bold" font-size="85.5" transform="translate(1541.4,574.0) scale(0.949,1)">3In/3Co</text>
<text font-family="'Liberation Sans', Arial, sans-serif" font-weight="bold" font-size="84.5" transform="translate(1424.8,848.0) scale(0.962,1)">1.5In/0.3Co</text>
<text font-family="'Liberation Sans', Arial, sans-serif" font-weight="bold" font-size="85.5" transform="translate(1666.1,1177.0) scale(0.937,1)">1.5In</text>
<text font-family="'Liberation Sans', Arial, sans-serif" font-weight="bold" font-size="85.5" transform="translate(704.5,1505.0) scale(0.949,1)">2 theta (degree)</text>
<text font-family="'Liberation Sans', Arial, sans-serif" font-weight="bold" font-size="97" transform="translate(286.1,157.5) scale(0.956,1)">SiO</text>
<text font-family="'Liberation Sans', Arial, sans-serif" font-weight="bold" font-size="56.7" transform="translate(446.5,190.0) scale(0.93,1)">2</text>
<text font-family="'Liberation Sans', Arial, sans-serif" font-weight="bold" font-size="85.5" transform="translate(90,961.6) rotate(-90) scale(0.964,1)">Intensity (a.u.)</text>
</svg>
</body></html>
